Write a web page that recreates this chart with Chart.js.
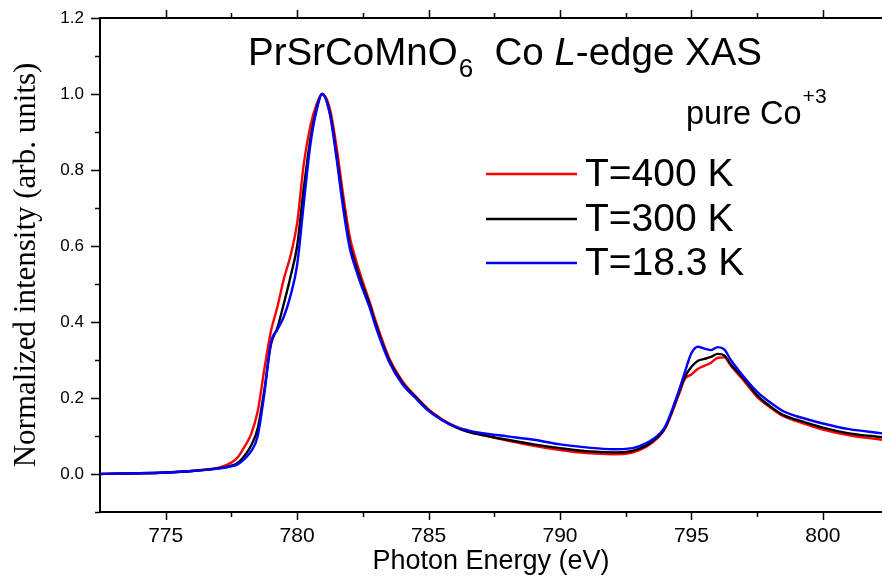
<!DOCTYPE html>
<html><head><meta charset="utf-8">
<script src="https://cdn.jsdelivr.net/npm/chart.js@4/dist/chart.umd.min.js"></script>
<style>html,body{margin:0;padding:0;background:#fff;overflow:hidden}#wrap{width:882px;height:577px}</style>
</head><body><div id="wrap"><canvas id="c" width="882" height="577"></canvas></div>
<script>
// ---- data ----
const energy = [772.5,773,774,775,776,777,777.5,777.75,778,778.25,778.5,778.75,779,779.25,779.5,779.75,780,780.25,780.5,780.75,780.95,781.25,781.5,781.75,782,782.25,782.5,782.75,783,783.5,784,784.5,785,785.5,786,786.5,787,788,789,790,791,792,792.5,793,793.5,794,794.5,794.75,795,795.25,795.5,795.75,796,796.25,796.5,797,797.5,798,798.5,799,800,801,802.25];
const red400 = [0.000,0.001,0.002,0.004,0.008,0.016,0.030,0.045,0.072,0.105,0.165,0.275,0.375,0.440,0.515,0.575,0.660,0.815,0.915,0.975,1.000,0.960,0.860,0.735,0.625,0.560,0.505,0.455,0.400,0.305,0.245,0.205,0.170,0.145,0.126,0.113,0.104,0.088,0.074,0.063,0.055,0.052,0.053,0.062,0.082,0.120,0.205,0.250,0.262,0.277,0.285,0.293,0.306,0.307,0.285,0.245,0.203,0.175,0.152,0.139,0.117,0.102,0.090];
const black300 = [0.000,0.001,0.002,0.004,0.008,0.015,0.022,0.030,0.048,0.075,0.120,0.220,0.340,0.385,0.450,0.520,0.600,0.750,0.880,0.965,1.000,0.950,0.840,0.715,0.605,0.545,0.495,0.448,0.392,0.300,0.240,0.203,0.168,0.143,0.124,0.111,0.103,0.090,0.078,0.068,0.060,0.057,0.058,0.066,0.085,0.122,0.210,0.255,0.282,0.298,0.303,0.308,0.316,0.312,0.288,0.250,0.207,0.178,0.155,0.143,0.122,0.107,0.097];
const blue18 = [0.000,0.001,0.002,0.004,0.008,0.014,0.020,0.026,0.040,0.060,0.100,0.210,0.345,0.380,0.415,0.470,0.550,0.710,0.865,0.960,1.000,0.945,0.830,0.700,0.595,0.535,0.485,0.440,0.385,0.295,0.237,0.200,0.166,0.142,0.125,0.115,0.108,0.099,0.090,0.078,0.070,0.065,0.066,0.073,0.090,0.125,0.215,0.268,0.318,0.335,0.330,0.326,0.334,0.328,0.300,0.255,0.216,0.188,0.165,0.152,0.133,0.118,0.107];
const seriesLabels = ['T=400 K','T=300 K','T=18.3 K'];
const xTickValues = [775,780,785,790,795,800];
const yTickValues = [0.0,0.2,0.4,0.6,0.8,1.0,1.2];
const xRange = [772.5, 802.25];
const yRange = [-0.1, 1.2];

const colors = ['#ff0000','#000000','#0000ff'];
const series = [red400, black300, blue18];
const pts = arr => energy.map((e,i)=>({x:e,y:arr[i]}));
const AREA = {left:100, top:18, right:882, bottom:512};

const decor = {
  id:'decor',
  afterDraw(chart){
    const {ctx, chartArea:{left,right,top,bottom}} = chart;
    const xs = chart.scales.x, ys = chart.scales.y;
    ctx.save();
    ctx.strokeStyle = '#000'; ctx.lineWidth = 2;
    ctx.beginPath(); ctx.moveTo(left - 1, top); ctx.lineTo(right, top); ctx.stroke();
    ctx.lineWidth = 1.5;
    for (let v = 772.5; v <= 802.5; v += 2.5){
      const px = Math.round(xs.getPixelForValue(v)) + 0.5;
      if (px < left + 2 || px > right) continue;
      const major = Math.abs(v % 5) < 1e-6;
      const len = major ? 8 : 5;
      ctx.beginPath(); ctx.moveTo(px, bottom); ctx.lineTo(px, bottom + len); ctx.stroke();
      ctx.beginPath(); ctx.moveTo(px, top); ctx.lineTo(px, top - len); ctx.stroke();
    }
    for (let k = -1; k <= 12; k++){
      const v = k/10;
      const py = Math.round(ys.getPixelForValue(v)) + 0.5;
      const major = (k % 2 === 0);
      const len = major ? 9 : 5;
      ctx.beginPath(); ctx.moveTo(left - len, py); ctx.lineTo(left, py); ctx.stroke();
    }
    ctx.fillStyle = '#000';
    ctx.textBaseline = 'alphabetic';
    let x = 248; const by = 65;
    const F = '"Liberation Sans", Arial, sans-serif';
    ctx.font = '38.5px ' + F;
    ctx.fillText('PrSrCoMnO', x, by); x += ctx.measureText('PrSrCoMnO').width;
    ctx.font = '26px ' + F;
    ctx.fillText('6', x + 1, by + 12); x += ctx.measureText('6').width + 1;
    ctx.font = '38.5px ' + F;
    ctx.fillText('  Co ', x, by); x += ctx.measureText('  Co ').width;
    ctx.font = 'italic 38.5px ' + F;
    ctx.fillText('L', x, by); x += ctx.measureText('L').width;
    ctx.font = '38.5px ' + F;
    ctx.fillText('-edge XAS', x, by);
    x = 686;
    ctx.font = '32.5px ' + F;
    ctx.fillText('pure Co', x, 124); x += ctx.measureText('pure Co').width;
    ctx.font = '21px ' + F;
    ctx.fillText('+3', x + 1, 103);
    const rows = [174, 219, 263];
    chart.data.datasets.forEach((ds, i) => {
      ctx.strokeStyle = ds.borderColor; ctx.lineWidth = 2.5;
      ctx.beginPath(); ctx.moveTo(486, rows[i]); ctx.lineTo(577, rows[i]); ctx.stroke();
      ctx.fillStyle = '#000';
      ctx.font = '39px ' + F;
      ctx.textBaseline = 'middle';
      ctx.fillText(ds.label, 585, rows[i] + 1);
    });
    ctx.restore();
  }
};

const chart = new Chart(document.getElementById('c'), {
  type:'line',
  data:{ datasets: series.map((arr,i)=>({
    label: seriesLabels[i], data: pts(arr), borderColor: colors[i], backgroundColor: colors[i],
    borderWidth: 2.4, pointRadius: 0, fill:false, cubicInterpolationMode:'monotone', order: 2 - i
  }))},
  options:{
    responsive:false, animation:false, devicePixelRatio:1,
    layout:{autoPadding:false, padding:{left:0,right:0,top:18,bottom:0}},
    plugins:{legend:{display:false}, tooltip:{enabled:false}},
    scales:{
      x:{ type:'linear', position:'bottom', min:xRange[0], max:xRange[1],
        afterBuildTicks: s => { s.ticks = xTickValues.map(v=>({value:v})); },
        afterFit: s => { s.height = 65; s.paddingLeft = 0; s.paddingRight = 0; },
        grid:{display:false, drawTicks:false},
        border:{display:true, color:'#000', width:2},
        ticks:{ color:'#000', padding:12, maxRotation:0, autoSkip:false,
          font:{family:'"Liberation Sans", Arial, sans-serif', size:21},
          callback: v => String(v) },
        title:{ display:true, text:'Photon Energy (eV)', color:'#000',
          font:{family:'"Liberation Sans", Arial, sans-serif', size:27, lineHeight:1},
          padding:{top:0,bottom:2} }
      },
      y:{ type:'linear', min:yRange[0], max:yRange[1],
        afterBuildTicks: s => { s.ticks = yTickValues.map(v=>({value:v})); },
        afterFit: s => { s.width = 100; s.paddingTop = 0; s.paddingBottom = 0; },
        grid:{display:false, drawTicks:false},
        border:{display:true, color:'#000', width:2},
        ticks:{ color:'#000', padding:16,
          font:{family:'"Liberation Sans", Arial, sans-serif', size:17},
          callback: v => v.toFixed(1) },
        title:{ display:true, text:'Normalized intensity (arb. units)', color:'#000',
          font:{family:'"Liberation Serif", "Times New Roman", serif', size:31, lineHeight:1},
          padding:{top:11,bottom:0} }
      }
    }
  },
  plugins:[decor]
});
(function fix(){
  const a = chart.chartArea, p = chart.options.layout.padding;
  const dt = a.top - AREA.top, dr = AREA.right - a.right;
  if (Math.abs(dt) > 0.5 || Math.abs(dr) > 0.5){
    p.top = Math.max(0, p.top - dt); p.right -= dr; chart.update();
  }
})();
</script></body></html>
